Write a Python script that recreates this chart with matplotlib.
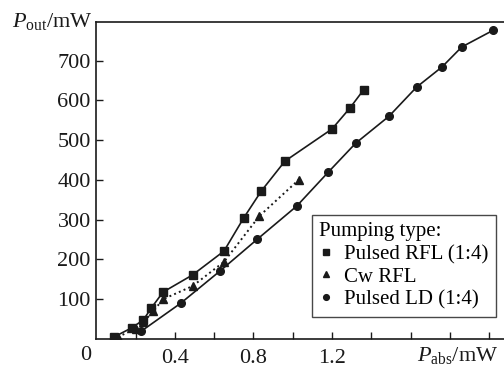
import matplotlib
matplotlib.use("Agg")
import matplotlib.pyplot as plt

plt.rcParams['font.family'] = ['Liberation Serif', 'DejaVu Serif']
plt.rcParams['mathtext.fontset'] = 'custom'
plt.rcParams['mathtext.rm'] = 'Liberation Serif'
plt.rcParams['mathtext.it'] = 'Liberation Serif:italic'

rfl_x = [0.09, 0.18, 0.24, 0.28, 0.34, 0.49, 0.65, 0.75, 0.84, 0.96, 1.20, 1.29, 1.36]
rfl_y = [5, 28, 48, 78, 118, 161, 221, 304, 372, 447, 528, 580, 626]

cw_x = [0.11, 0.20, 0.24, 0.29, 0.34, 0.49, 0.65, 0.83, 1.03]
cw_y = [5, 26, 42, 70, 100, 133, 194, 309, 400]

ld_x = [0.23, 0.43, 0.63, 0.82, 1.02, 1.18, 1.32, 1.49, 1.63, 1.76, 1.86, 2.02]
ld_y = [20, 90, 171, 251, 334, 419, 492, 560, 633, 684, 734, 776]

labels = ['Pulsed RFL (1:4)', 'Cw RFL', 'Pulsed LD (1:4)']
x_ticks = [0.4, 0.8, 1.2]
y_ticks = [100, 200, 300, 400, 500, 600, 700]

FS = 16
fig = plt.figure(figsize=(5.04, 3.67), dpi=100)
ax = fig.add_axes([0.191, 0.0763, 0.809, 0.864])

ax.plot(rfl_x, rfl_y, '-', color='#1a1a1a', lw=1.2, marker='s', ms=6, label=labels[0])
ax.plot(cw_x, cw_y, ':', color='#1a1a1a', lw=1.4, marker='^', ms=6, label=labels[1])
ax.plot(ld_x, ld_y, '-', color='#1a1a1a', lw=1.2, marker='o', ms=5.5, label=labels[2])

ax.set_xlim(0, 2.075)
ax.set_ylim(0, 797)
ax.spines['right'].set_visible(False)
for s in ['left', 'top', 'bottom']:
    ax.spines[s].set_linewidth(1.2)
    ax.spines[s].set_color('#1a1a1a')

minor = [round(0.2 * i, 1) for i in range(1, 11)]
ax.set_xticks(minor)
ax.set_xticklabels([f'{v:.1f}' if v in x_ticks else '' for v in minor])
ax.set_yticks(y_ticks)
ax.set_yticklabels([str(v) for v in y_ticks])
ax.tick_params(direction='in', length=5, width=1.0, labelsize=FS, colors='#1a1a1a', pad=4)
ax.tick_params(axis='x', pad=7)

ax.text(-0.025, -42, '0', ha='right', va='center', fontsize=FS, color='#1a1a1a')
ax.text(-0.02, 797, r'$\mathit{P}_{\rm out}$/mW', ha='right', va='center', fontsize=FS, color='#1a1a1a')
ax.text(2.045, -42, r'$\mathit{P}_{\rm abs}$/mW', ha='right', va='center', fontsize=FS, color='#1a1a1a')

leg = ax.legend(title='Pumping type:', loc='upper left', bbox_to_anchor=(312 / 504, 1 - 215 / 367),
                bbox_transform=fig.transFigure, borderaxespad=0,
                fontsize=15, title_fontsize=15, frameon=True, fancybox=False,
                edgecolor='#1a1a1a', handlelength=0.6, handletextpad=0.6,
                labelspacing=0.15, borderpad=0.35, markerscale=0.75)
leg._legend_box.align = 'left'
leg.get_frame().set_linewidth(1.0)
for h in leg.legend_handles:
    h.set_linestyle('None')

fig.savefig('out.png', dpi=100)
